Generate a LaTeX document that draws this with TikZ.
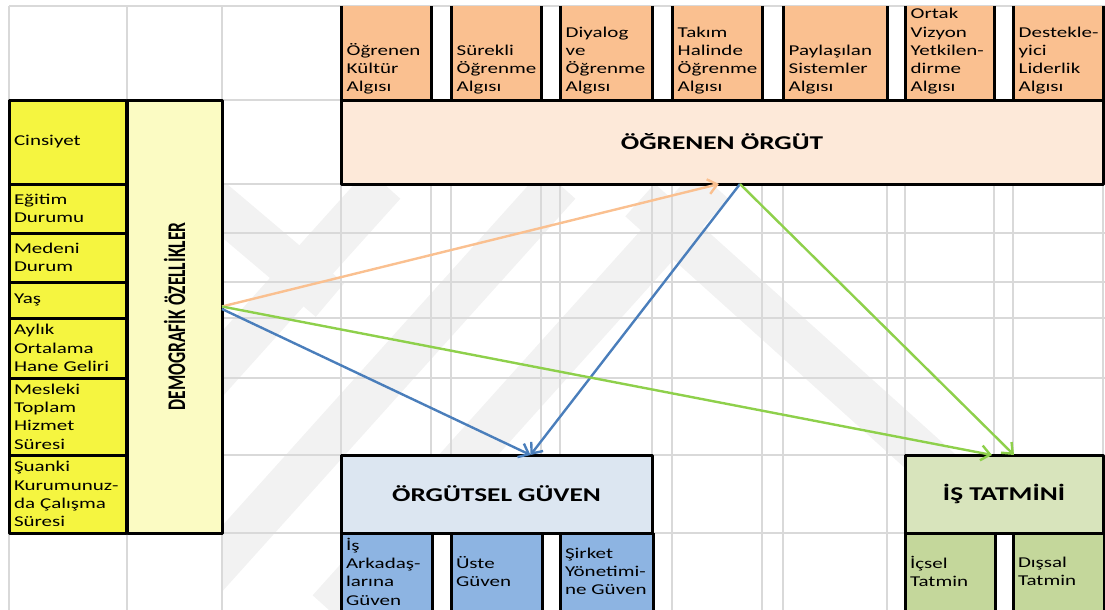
\documentclass[tikz,border=0pt]{standalone}
\usepackage{graphicx}
\usepackage{fontspec}
\setmainfont{Carlito}[FakeStretch=1.4]
\newfontfamily\rotfont{Carlito}
\usetikzlibrary{arrows.meta}
\definecolor{gridgray}{HTML}{D9D9D9}
\definecolor{markgray}{HTML}{F2F2F2}
\definecolor{kfill}{HTML}{FAC090}
\definecolor{ofill}{HTML}{FDE9D9}
\definecolor{yfill}{HTML}{F5F540}
\definecolor{lyfill}{HTML}{FBFBC3}
\definecolor{gfill}{HTML}{DCE6F1}
\definecolor{bfill}{HTML}{8DB4E2}
\definecolor{tfill}{HTML}{D8E4BC}
\definecolor{tsub}{HTML}{C4D79B}
\definecolor{arrorange}{HTML}{FAC090}
\definecolor{arrblue}{HTML}{4A7EBB}
\definecolor{arrgreen}{HTML}{8ED04B}
\newcommand{\celltxt}{\fontsize{15}{18.3}\selectfont}
\newcommand{\titletxt}{\fontsize{19.5}{23}\selectfont\bfseries}
\hyphenpenalty=10000
\exhyphenpenalty=10000
\begin{document}
\begin{tikzpicture}[x=1pt, y=-1pt, line join=round,
		gridline/.style={draw=gridgray, line width=1.2pt},
		wmark/.style={draw=markgray, line width=44pt},
		border/.style={draw=black, line width=3pt},
		box/.style={border, inner sep=0pt, outer sep=0pt, anchor=north west},
		topcell/.style={fill=kfill, inner sep=0pt, outer sep=0pt, anchor=north west},
		toptext/.style={inner sep=0pt, anchor=base west, font=\celltxt},
		ycell/.style={box, fill=yfill, inner xsep=5pt, inner ysep=0pt, align=left, font=\celltxt, minimum width=117, text width=107},
		subcell/.style={fill=#1, inner xsep=5pt, inner ysep=0pt, outer sep=0pt, anchor=north west, align=left, font=\celltxt},
		arr/.style={line width=2.4pt, -{Straight Barb[length=9pt,width=15pt]}}]
	\useasboundingbox (0,0) rectangle (1105,610);
	% watermark
	\begin{scope}
		\clip (222,184) rectangle (1105,610);
		\draw[wmark] (1,610) -- (384,184);
		\draw[wmark] (176,610) -- (559,184);
		\draw[wmark] (329,610) -- (712,184);
		\draw[wmark] (200,190) -- (330,300);
		\draw[wmark] (640,200) -- (940,470);
	\end{scope}
	% grid
	\foreach \gx in {9,127,222,341,431,451,541,560,652,672,762,783,887,905,994,1013,1103}
	\draw[gridline] (\gx,6) -- (\gx,610);
	\foreach \gy in {6,100,184,233,282,318,378,455,533}
	\draw[gridline] (9,\gy) -- (1105,\gy);
	% top row
	\foreach \nm/\lx/\bw/\txt in {kultur/341/90/{Öğrenen\\Kültür\\Algısı},
		surekli/451/90/{Sürekli\\Öğrenme\\Algısı},
		diyalog/560/92/{Diyalog\\ve\\Öğrenme\\Algısı},
		takim/672/90/{Takım\\Halinde\\Öğrenme\\Algısı},
		paylasim/783/104/{Paylaşılan\\Sistemler\\Algısı},
		vizyon/905/89/{Ortak\\Vizyon\\Yetkilen-\\dirme\\Algısı},
		lider/1013/90/{Destekle-\\yici\\Liderlik\\Algısı}}{
		\node[topcell, minimum width=\bw, minimum height=94] (\nm) at (\lx,6) {};
		\draw[border] (\nm.north west) |- (\nm.south east) -- (\nm.north east);
		\node[toptext] (\nm-t) at ([xshift=5.5pt,yshift=8pt]\nm.south west) {\begin{tabular}[b]{@{}l@{}}\txt\end{tabular}};
	}
	\node[box, fill=ofill, minimum width=762, minimum height=84, font=\titletxt] (ogr) at (341,100) {ÖĞRENEN ÖRGÜT};
	% left column
	\foreach \nm/\ty/\hh/\txt in {cins/100/84/Cinsiyet,
		egitim/184/49/{Eğitim\\Durumu},
		medeni/233/49/{Medeni\\Durum},
		yas/282/36/Yaş,
		gelir/318/60/{Aylık\\Ortalama\\Hane~Geliri},
		hizmet/378/77/{Mesleki\\Toplam\\Hizmet\\Süresi},
		sure/455/78/{Şuanki\\Kurumunuz-\\da~Çalışma\\Süresi}}
	\node[ycell, minimum height=\hh] (\nm) at (9,\ty) {\txt};
	\node[box, fill=lyfill, minimum width=95, minimum height=433] (dem) at (127,100) {};
	\node[rotate=90, inner sep=0pt] (dem-t) at (dem.center) {\scalebox{1}[1.45]{\rotfont\bfseries\fontsize{17.5}{20}\selectfont DEMOGRAFİK ÖZELLİKLER}};
	% bottom boxes
	\foreach \nm/\lx/\bw/\fc/\txt in {isark/341/90/bfill/{İş\\Arkadaş-\\larına\\Güven},
		uste/451/90/bfill/{Üste\\Güven},
		sirket/560/92/bfill/{Şirket\\Yönetimi-\\ne~Güven},
		icsel/905/89/tsub/{İçsel\\Tatmin},
		dissal/1013/90/tsub/{Dışsal\\Tatmin}}{
		\node[subcell=\fc, minimum width=\bw, minimum height=77, text width=\bw-9] (\nm) at (\lx,533) {\txt};
		\draw[border] (\nm.north west) -- (\nm.south west) (\nm.north east) -- (\nm.south east);
	}
	\node[box, fill=gfill, minimum width=311, minimum height=78, font=\titletxt] (guv) at (341,455) {ÖRGÜTSEL GÜVEN};
	\node[box, fill=tfill, minimum width=198, minimum height=78, font=\titletxt] (tat) at (905,455) {İŞ TATMİNİ};
	% arrows
	\draw[arr, draw=arrorange] ([yshift=10pt]dem.east) -- ([xshift=-3pt]ogr.south);
	\draw[arr, draw=arrblue] ([yshift=7.5pt]dem.east) -- ([xshift=34pt]guv.north);
	\draw[arr, draw=arrblue] ([xshift=18pt]ogr.south) -- ([xshift=34pt]guv.north);
	\draw[arr, draw=arrgreen] ([yshift=10pt]dem.east) -- ([xshift=-12pt]tat.north);
	\draw[arr, draw=arrgreen] ([xshift=18pt]ogr.south) -- ([xshift=10pt]tat.north);
\end{tikzpicture}
\end{document}
